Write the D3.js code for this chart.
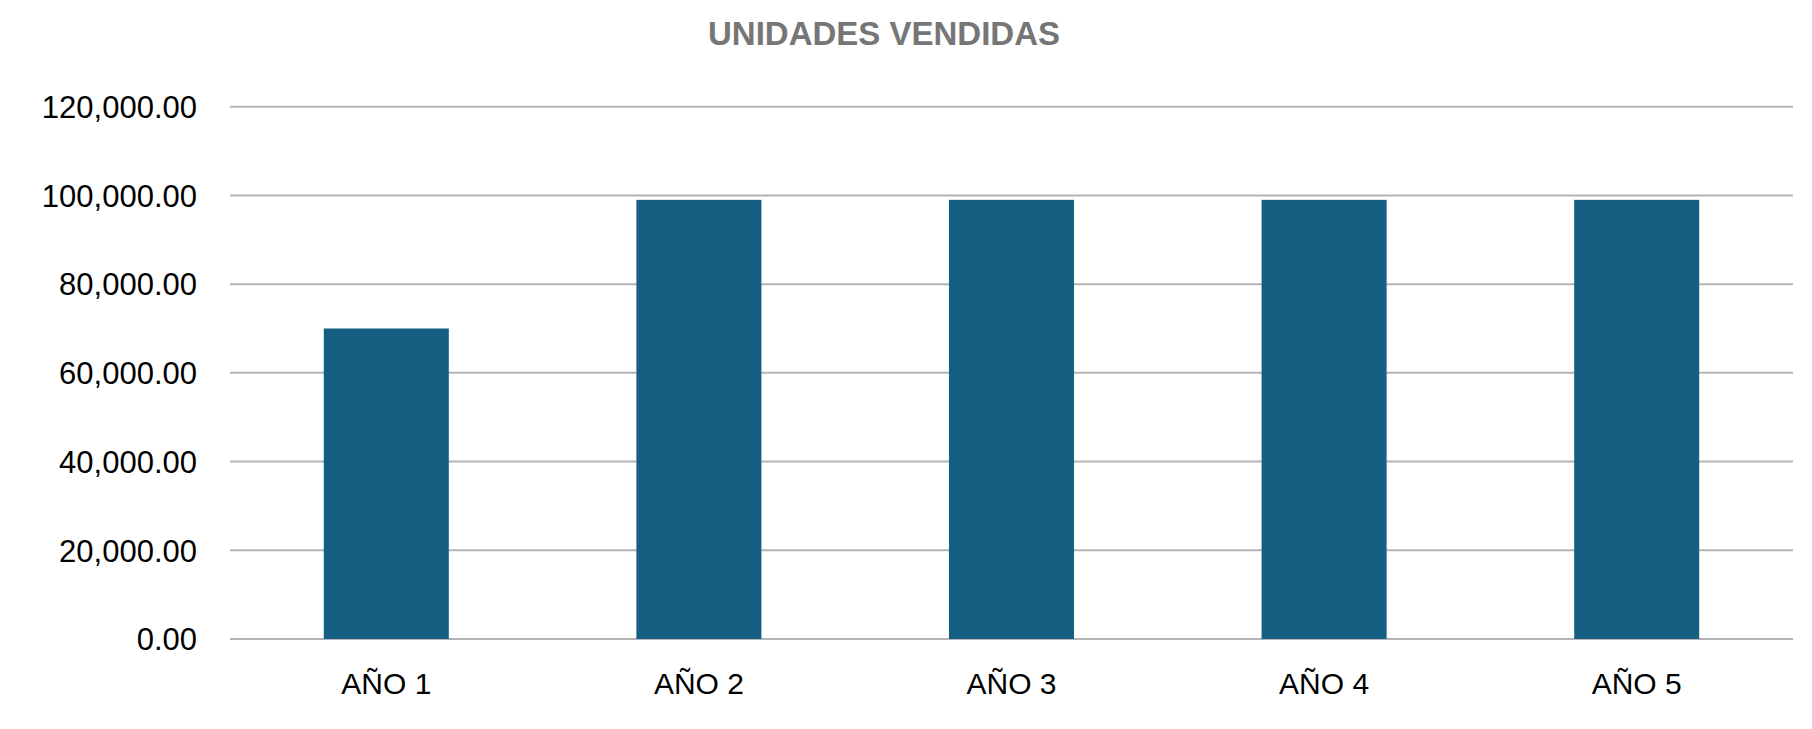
<!DOCTYPE html>
<html>
<head>
<meta charset="utf-8">
<script src="https://cdn.jsdelivr.net/npm/d3@7"></script>
<style>
  html, body { margin: 0; padding: 0; background: #fff; }
  svg { display: block; }
</style>
</head>
<body>
<svg id="chart" width="1812" height="729"></svg>
<script>
const title = "UNIDADES VENDIDAS";
const categories = ["AÑO 1", "AÑO 2", "AÑO 3", "AÑO 4", "AÑO 5"];
const values = [70000, 99000, 99000, 99000, 99000];
const yTicks = [0, 20000, 40000, 60000, 80000, 100000, 120000];

const svg = d3.select("#chart");
const margin = { left: 230, right: 19, top: 106.7, bottom: 90 };
const W = 1812, H = 729;

const x = d3.scaleBand()
  .domain(categories)
  .range([margin.left, W - margin.right])
  .paddingInner(0.6)
  .paddingOuter(0.3);

const y = d3.scaleLinear()
  .domain([0, 120000])
  .range([639, margin.top]);

// gridlines
svg.append("g")
  .selectAll("line")
  .data(yTicks)
  .join("line")
  .attr("x1", margin.left)
  .attr("x2", W - margin.right)
  .attr("y1", d => y(d))
  .attr("y2", d => y(d))
  .attr("stroke", "#b4b4b4")
  .attr("stroke-width", 2);

// y axis labels
const fmt = d3.format(",.2f");
const yAxis = d3.axisLeft(y).tickValues(yTicks).tickFormat(fmt).tickSize(0).tickPadding(33);
const yg = svg.append("g").attr("transform", `translate(${margin.left},0)`).call(yAxis);
yg.select(".domain").remove();
yg.selectAll("text")
  .attr("font-family", "'Liberation Sans', Arial, sans-serif")
  .attr("font-size", 31)
  .attr("fill", "#000")
  .attr("dy", "0.35em");

// bars
svg.append("g")
  .selectAll("rect")
  .data(values)
  .join("rect")
  .attr("x", (d, i) => x(categories[i]))
  .attr("width", x.bandwidth())
  .attr("y", d => y(d))
  .attr("height", d => y(0) - y(d))
  .attr("fill", "#156082");

// x axis labels
const xAxis = d3.axisBottom(x).tickSize(0).tickPadding(0);
const xg = svg.append("g").attr("transform", `translate(0,${y(0)})`).call(xAxis);
xg.select(".domain").remove();
xg.selectAll("text")
  .attr("font-family", "'Liberation Sans', Arial, sans-serif")
  .attr("font-size", 30)
  .attr("fill", "#000")
  .attr("dy", null)
  .attr("y", 55);

// title
svg.append("text")
  .attr("x", 884)
  .attr("y", 44.5)
  .attr("text-anchor", "middle")
  .attr("font-family", "'Liberation Sans', Arial, sans-serif")
  .attr("font-weight", "bold")
  .attr("font-size", 33)
  .attr("fill", "#767676")
  .text(title);
</script>
</body>
</html>
